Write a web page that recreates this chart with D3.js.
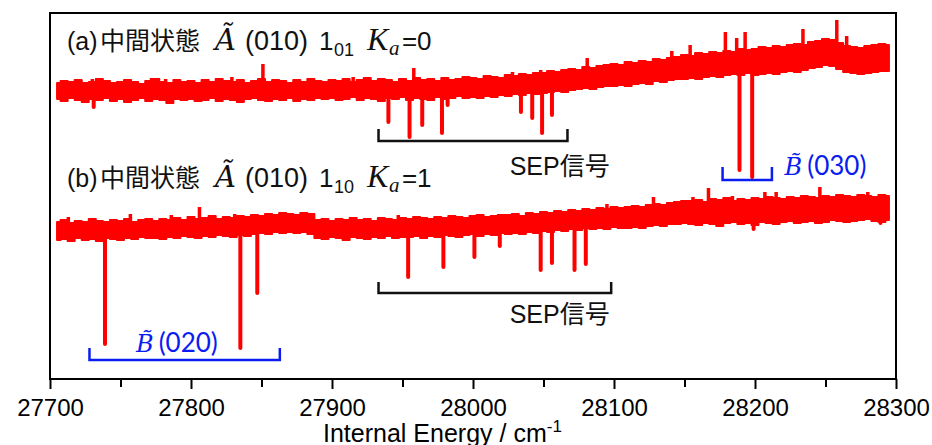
<!DOCTYPE html>
<html>
<head>
<meta charset="utf-8">
<script src="https://cdnjs.cloudflare.com/ajax/libs/d3/7.8.5/d3.min.js"></script>
<style>
  body { margin: 0; background: #fff; }
  svg { display: block; }
  .axis text { font-family: "Liberation Sans", Arial, sans-serif; font-size: 24px; fill: #000; }
  .axis line { stroke: #000; stroke-width: 2px; }
</style>
</head>
<body>
<div id="viz"></div>
<script>
var margin = {top: 13, right: 36, bottom: 66, left: 50},
    width = 932,
    height = 445;

// x ticks (cm-1)
var majorTicks = [27700, 27800, 27900, 28000, 28100, 28200, 28300];
var minorTicks = [27750, 27850, 27950, 28050, 28150, 28250];

// sampling grid of the traces: 27705 .. 28295 step 5
var gridStart = 27705, gridStep = 5;

// (a) A(010) 1_01 Ka=0 : upper / lower edge of the noisy trace (arb. units)
var aHi = [296, 298, 297, 299, 296, 297, 300, 298, 296, 297, 299, 297, 295, 298, 300, 297, 296, 299, 297,
           298, 296, 299, 297, 300, 298, 297, 299, 296, 298, 300, 297, 299, 298, 296, 299, 297, 300, 298, 297,
           299, 298, 300, 297, 299, 301, 298, 300, 299, 297, 300, 298, 301, 299, 300, 298, 301, 299, 300, 302,
           301, 300, 303, 302, 301, 304, 303, 305, 304, 306,
           306, 308, 307, 309, 310, 309, 312, 311, 313, 314,
           315, 314, 317, 316, 318, 317, 320, 319, 321, 322,
           324, 323, 326, 325, 327, 326, 328, 327, 330, 329,
           330, 332, 331, 333, 332, 334, 335, 334, 337, 338,
           340, 339, 336, 333, 332, 331, 333, 334, 335, 334];
var aLo = [280, 278, 281, 279, 277, 280, 279, 281, 278, 280, 277, 279, 281, 278, 280, 279, 276, 280, 279,
           280, 278, 279, 281, 278, 280, 279, 277, 280, 281, 279, 278, 280, 279, 281, 278, 280, 279, 281, 280,
           281, 279, 280, 282, 279, 281, 280, 278, 281, 280, 282, 279, 281, 280, 279, 282, 280, 281, 283, 281,
           282, 281, 283, 282, 284, 283, 285, 284, 286, 285,
           286, 287, 288, 287, 289, 290, 291, 290, 292, 293,
           293, 294, 293, 295, 296, 295, 298, 297, 299, 300,
           300, 301, 300, 302, 303, 302, 304, 305, 304, 306,
           304, 305, 306, 305, 307, 308, 307, 309, 311, 312,
           314, 313, 310, 307, 306, 305, 306, 307, 308, 308];
// narrow upward spikes [energy, top]
var aSpikes = [[27730, 300], [27772, 301], [27782, 300], [27829, 302], [27851, 315], [27915, 302],
               [27932, 299], [27958, 311], [28028, 307], [28048, 309], [28081, 321], [28141, 328],
               [28154, 334], [28179, 347], [28187, 341], [28193, 347], [28234, 350], [28258, 359], [28265, 343]];
// downward SEP dips [energy, bottom]
var aDips = [[27731, 272], [27940, 257], [27955, 242], [27964, 254], [27978, 246], [27982, 274],
             [28034, 267], [28042, 261], [28049, 246], [28056, 264], [28189, 209], [28198, 202]];

// (b) A(010) 1_10 Ka=1
var bHi = [157, 159, 156, 158, 157, 160, 158, 157, 159, 158, 160, 157, 159, 160,
           158, 160, 159, 161, 159, 162, 160, 161, 163, 160, 162, 161, 163, 162,
           164, 163, 165, 164, 166, 165, 164, 166, 165,
           159, 160, 158, 160, 159, 161, 159, 160, 158, 161, 160, 159, 161,
           160, 162, 161, 160, 162, 161, 163, 162, 161, 163, 164, 162, 163, 164,
           164, 165, 163, 166, 165, 167, 166, 168, 167, 169, 168, 170, 169, 171, 170, 172, 171,
           172, 173, 172, 174, 175, 174, 176, 177, 178,
           178, 179, 177, 180, 179, 181, 178, 180, 179, 181, 180, 182, 181, 180, 182, 181, 183, 182, 181,
           183, 182, 184, 183, 182, 184, 183, 182, 184, 183];
var bLo = [139, 140, 138, 141, 139, 140, 138, 141, 140, 139, 141, 140, 142, 141,
           141, 140, 142, 141, 143, 142, 141, 143, 142, 144, 143, 142, 144, 143,
           145, 146, 145, 147, 146, 147, 146, 147, 145,
           141, 140, 142, 141, 139, 142, 141, 140, 142, 141, 143, 141, 142,
           142, 143, 141, 143, 142, 144, 143, 142, 144, 145, 143, 145, 144, 146,
           145, 146, 145, 147, 146, 148, 147, 149, 148, 150, 149, 151, 150, 151, 150, 152, 151,
           151, 152, 151, 153, 154, 153, 155, 155, 156,
           155, 154, 156, 155, 153, 156, 157, 155, 156, 154, 157, 156, 155, 157, 158, 156, 157, 158, 156,
           157, 159, 158, 157, 158, 159, 160, 158, 157, 159];
var bSpikes = [[27713, 162], [27757, 165], [27786, 164], [27806, 172], [27831, 165], [27947, 164],
               [28095, 175], [28128, 182], [28156, 182], [28167, 191], [28184, 183], [28207, 187],
               [28215, 187], [28246, 192], [28280, 187]];
var bDips = [[27739, 35], [27835, 31], [27847, 86], [27954, 102], [27979, 112], [28001, 122],
             [28019, 133], [28048, 109], [28056, 116], [28072, 109], [28080, 115], [28199, 150], [28289, 156]];

// assignment brackets [from, to, base, top]
var sepBrackets = [[27933, 28067, 238, 250], [27933, 28098, 86, 97]];
var bandBrackets = [[28177, 28212, 199, 212], [27728, 27863, 19, 31]];

var x = d3.scaleLinear().domain([27700, 28300]).range([margin.left, width - margin.right]);
var y = d3.scaleLinear().domain([0, 366]).range([height - margin.bottom, margin.top]);

function energyAt(i) { return gridStart + i * gridStep; }

function centerAt(hi, lo, e) {
  var i = Math.max(0, Math.min(hi.length - 1, Math.round((e - gridStart) / gridStep)));
  return (hi[i] + lo[i]) / 2;
}

var svg = d3.select('#viz').append('svg')
  .attr('width', width)
  .attr('height', height);

// axis
svg.append('g')
  .attr('class', 'axis')
  .attr('transform', 'translate(0,' + (height - margin.bottom) + ')')
  .call(d3.axisBottom(x).tickValues(minorTicks).tickSize(8).tickFormat(''))
  .call(g => g.select('.domain').remove());

svg.append('g')
  .attr('class', 'axis')
  .attr('transform', 'translate(0,' + (height - margin.bottom) + ')')
  .call(d3.axisBottom(x).tickValues(majorTicks).tickSize(10).tickPadding(10).tickFormat(d3.format('d')))
  .call(g => g.select('.domain').remove());

var title = svg.append('text')
  .attr('x', 323)
  .attr('y', 442)
  .style('font-family', '"Liberation Sans", Arial, sans-serif')
  .style('font-size', '25px');
title.append('tspan').text('Internal Energy / cm');
title.append('tspan').attr('dy', -10).style('font-size', '17px').text('-1');

// traces
var band = d3.area()
  .curve(d3.curveStep)
  .x((d, i) => x(energyAt(i)));

function drawTrace(hi, lo, spikes, dips) {
  var g = svg.append('g').attr('fill', 'red').attr('stroke', 'red');

  g.append('path')
    .datum(hi)
    .attr('stroke-width', 2)
    .attr('stroke-linejoin', 'round')
    .attr('d', band.y0((d, i) => y(lo[i])).y1(d => y(d)));

  g.selectAll('.spike')
    .data(spikes)
    .join('line')
    .attr('class', 'spike')
    .attr('stroke-width', 3.5)
    .attr('x1', d => x(d[0])).attr('x2', d => x(d[0]))
    .attr('y1', d => y(centerAt(hi, lo, d[0])))
    .attr('y2', d => y(d[1]));

  g.selectAll('.dip')
    .data(dips)
    .join('line')
    .attr('class', 'dip')
    .attr('stroke-width', 4)
    .attr('stroke-linecap', 'round')
    .attr('x1', d => x(d[0])).attr('x2', d => x(d[0]))
    .attr('y1', d => y(centerAt(hi, lo, d[0])))
    .attr('y2', d => y(d[1]));
}

drawTrace(aHi, aLo, aSpikes, aDips);
drawTrace(bHi, bLo, bSpikes, bDips);

// brackets
function bracket(d) {
  return 'M' + x(d[0]) + ',' + y(d[3]) + 'V' + y(d[2]) + 'H' + x(d[1]) + 'V' + y(d[3]);
}
svg.selectAll('.sep')
  .data(sepBrackets)
  .join('path')
  .attr('class', 'sep')
  .attr('fill', 'none')
  .attr('stroke', '#111')
  .attr('stroke-width', 2.5)
  .attr('d', bracket);

svg.selectAll('.bb')
  .data(bandBrackets)
  .join('path')
  .attr('class', 'bb')
  .attr('fill', 'none')
  .attr('stroke', '#0a1cf0')
  .attr('stroke-width', 2.5)
  .attr('d', bracket);

// labels
var sans = '"Liberation Sans", "Noto Sans CJK JP", sans-serif';
var serif = '"Liberation Serif", "DejaVu Serif", serif';

svg.selectAll('.seplabel')
  .data([[28026, 204], [28026, 56]])
  .join('text')
  .attr('class', 'seplabel')
  .attr('x', d => x(d[0]))
  .attr('y', d => y(d[1]))
  .style('font-family', sans)
  .style('font-size', '25px')
  .attr('fill', '#111')
  .text('SEP信号');

var blueLabels = [[28221, 204, '(030)'], [27761, 27, '(020)']];
blueLabels.forEach(function(d) {
  var t = svg.append('text')
    .attr('x', x(d[0]))
    .attr('y', y(d[1]))
    .attr('fill', '#0a1cf0');
  t.append('tspan')
    .style('font-family', '"DejaVu Serif", serif')
    .style('font-style', 'italic')
    .style('font-size', '24px')
    .text('B\u0303');
  t.append('tspan')
    .attr('dx', 5)
    .style('font-family', 'Lato, "Liberation Sans", sans-serif')
    .style('font-size', '26px')
    .text(d[2]);
});

var panelLabels = [[27712, 329, '(a)', '01', '0'], [27712, 192, '(b)', '10', '1']];
panelLabels.forEach(function(d) {
  var x0 = x(d[0]);
  var t = svg.append('text')
    .attr('x', x0)
    .attr('y', y(d[1]))
    .attr('fill', '#111')
    .style('font-family', sans)
    .style('font-size', '25px');
  t.append('tspan').text(d[2]);
  t.append('tspan').attr('x', x0 + 33).text('中間状態');
  t.append('tspan').attr('x', x0 + 148)
    .style('font-family', '"DejaVu Serif", serif').style('font-style', 'italic').style('font-size', '29px')
    .text('Ã');
  t.append('tspan').attr('x', x0 + 178)
    .style('font-size', '27px')
    .text('(010)');
  t.append('tspan').attr('x', x0 + 252).style('font-size', '26px').text('1');
  t.append('tspan').attr('x', x0 + 267).attr('dy', 6).style('font-size', '18px').text(d[3]);
  t.append('tspan').attr('x', x0 + 300).attr('dy', -6)
    .style('font-family', serif).style('font-style', 'italic').style('font-size', '32px')
    .text('K');
  t.append('tspan').attr('x', x0 + 322).attr('dy', 5)
    .style('font-family', serif).style('font-style', 'italic').style('font-size', '21px')
    .text('a');
  t.append('tspan').attr('x', x0 + 335).attr('dy', -5).style('font-size', '26px').text('=' + d[4]);
});

// frame
svg.append('rect')
  .attr('x', margin.left)
  .attr('y', margin.top)
  .attr('width', width - margin.left - margin.right)
  .attr('height', height - margin.top - margin.bottom)
  .attr('fill', 'none')
  .attr('stroke', '#000')
  .attr('stroke-width', 2);
</script>
</body>
</html>
